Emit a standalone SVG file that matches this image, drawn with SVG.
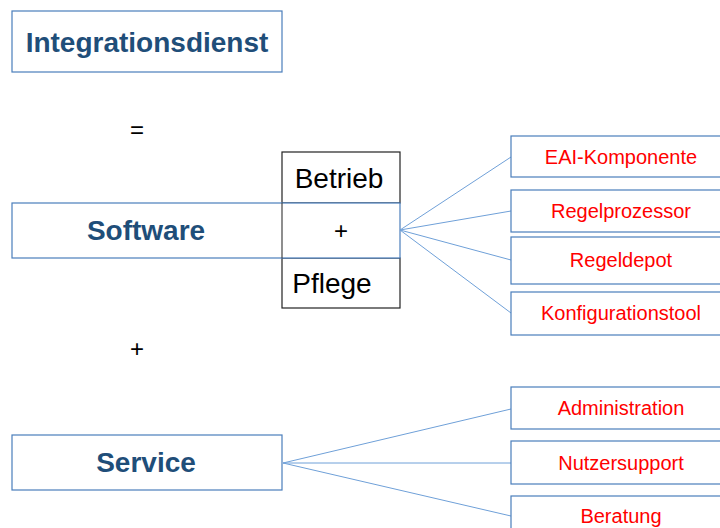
<svg xmlns="http://www.w3.org/2000/svg" width="720" height="528" viewBox="0 0 720 528">
<style>
.bx{fill:#fff;stroke:#4A7EBB;stroke-width:1.2}
.bk{fill:#fff;stroke:#222;stroke-width:1.2}
.h{font-family:"Liberation Sans",Arial,sans-serif;font-weight:bold;font-size:28px;fill:#1F4E79;text-anchor:middle}
.r{font-family:"Liberation Sans",Arial,sans-serif;font-size:20px;fill:#FF0000;text-anchor:middle}
.k{font-family:"Liberation Sans",Arial,sans-serif;font-size:28px;fill:#000;text-anchor:middle}
.op{font-family:"Liberation Sans",Arial,sans-serif;font-size:24px;fill:#000;text-anchor:middle}
.c{stroke:#6FA0D8;stroke-width:1;fill:none}
</style>
<rect width="720" height="528" fill="#fff"/>
<g id="integrationsdienst"><rect class="bx" x="12" y="11" width="270" height="61"/><text class="h" x="147" y="52">Integrationsdienst</text></g>
<text class="op" x="137" y="138">=</text>
<g id="betrieb"><rect class="bk" x="282" y="152" width="118" height="51"/><text class="k" x="339" y="188">Betrieb</text></g>
<g id="pflege"><rect class="bk" x="282" y="258" width="118" height="50"/><text class="k" x="332" y="293">Pflege</text></g>
<g id="software"><rect class="bx" x="12" y="203" width="388" height="55"/><line x1="282" y1="203" x2="282" y2="258" stroke="#444" stroke-width="1.2"/><text class="h" x="146" y="240">Software</text><text class="op" x="341" y="239">+</text></g>
<text class="op" x="137" y="357">+</text>
<g id="service"><rect class="bx" x="12" y="435" width="270" height="55"/><text class="h" x="146" y="472">Service</text></g>
<g id="connectors">
<line class="c" x1="400" y1="230" x2="511" y2="157"/>
<line class="c" x1="400" y1="230" x2="511" y2="211"/>
<line class="c" x1="400" y1="230" x2="511" y2="260"/>
<line class="c" x1="400" y1="230" x2="511" y2="313"/>
<line class="c" x1="283" y1="463" x2="511" y2="409"/>
<line class="c" x1="283" y1="463" x2="511" y2="463"/>
<line class="c" x1="283" y1="463" x2="511" y2="516"/>
</g>
<g id="eai"><rect class="bx" x="511" y="136" width="215" height="41"/><text class="r" x="621" y="164">EAI-Komponente</text></g>
<g id="regelprozessor"><rect class="bx" x="511" y="190" width="215" height="42"/><text class="r" x="621" y="218">Regelprozessor</text></g>
<g id="regeldepot"><rect class="bx" x="511" y="237" width="215" height="47"/><text class="r" x="621" y="267">Regeldepot</text></g>
<g id="konfigurationstool"><rect class="bx" x="511" y="292" width="215" height="43"/><text class="r" x="621" y="320">Konfigurationstool</text></g>
<g id="administration"><rect class="bx" x="511" y="387" width="215" height="42"/><text class="r" x="621" y="415">Administration</text></g>
<g id="nutzersupport"><rect class="bx" x="511" y="441" width="215" height="43"/><text class="r" x="621" y="470">Nutzersupport</text></g>
<g id="beratung"><rect class="bx" x="511" y="496" width="215" height="40"/><text class="r" x="621" y="523">Beratung</text></g>
</svg>
